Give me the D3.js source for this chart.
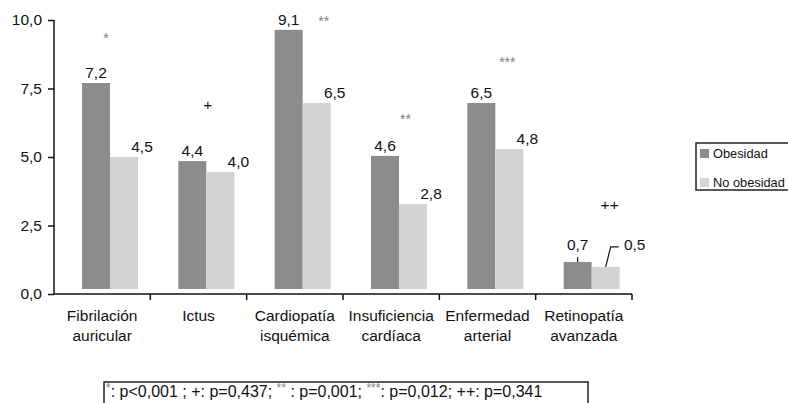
<!DOCTYPE html>
<html>
<head>
<meta charset="utf-8">
<script src="https://cdnjs.cloudflare.com/ajax/libs/d3/7.8.5/d3.min.js"></script>
<style>
  body { margin: 0; background: #fff; }
  svg { font-family: "Liberation Sans", Arial, Helvetica, sans-serif; }
</style>
</head>
<body>
<svg id="chart" width="788" height="403"></svg>
<script>
'use strict';

// categorias (dos lineas cada una)
var categories = [
  ["Fibrilación", "auricular"],
  ["Ictus", ""],
  ["Cardiopatía", "isquémica"],
  ["Insuficiencia", "cardíaca"],
  ["Enfermedad", "arterial"],
  ["Retinopatía", "avanzada"]
];
var series = ["Obesidad", "No obesidad"];

// valores rotulados
var obesidad = [7.2, 4.4, 9.1, 4.6, 6.5, 0.7];
var noObesidad = [4.5, 4.0, 6.5, 2.8, 4.8, 0.5];

// altura de las barras (estan dibujadas mas altas que su rotulo)
var obesidadBar = [7.70, 4.85, 9.64, 5.04, 6.97, 1.17];
var noObesidadBar = [5.00, 4.45, 6.97, 3.28, 5.29, 0.99];

// marcas de significacion y su altura (en unidades del eje)
var sigMarks = ["*", "+", "**", "**", "***", "++"];
var sigLevel = [9.53, 6.93, 10.18, 6.57, 8.65, 3.28];
var sigShift = [-4, 1.5, 21, 6.5, 12, 18];

var yTicks = [0, 2.5, 5, 7.5, 10];

var footnote = [
  {t: "*", sup: true},
  {t: ": p<0,001 ; +: p=0,437; "},
  {t: "**", sup: true},
  {t: " : p=0,001; "},
  {t: "***", sup: true},
  {t: ": p=0,012; ++: p=0,341"}
];

var darkColor = "#8c8c8c";
var lightColor = "#d3d3d3";
var comma = function (v) { return d3.format(".1f")(v).replace(".", ","); };

var svg = d3.select("#chart");

var x = d3.scaleBand()
    .domain(categories.map(function (d) { return d[0]; }))
    .range([54, 632])
    .paddingInner(0).paddingOuter(0);
var y = d3.scaleLinear().domain([0, 10]).range([294, 20]);

var barW = 28, barOff = 28;
var barBase = y(0) - 5;

// eje y
var yAxis = svg.append("g")
    .attr("transform", "translate(54,0)")
    .call(d3.axisLeft(y).tickValues(yTicks).tickSize(6).tickPadding(6).tickFormat(comma));
yAxis.select(".domain").attr("d", "M0," + y(10) + "V" + y(0)).attr("stroke", "#111").attr("stroke-width", 1.5);
yAxis.selectAll(".tick line").attr("stroke", "#111").attr("stroke-width", 1.5);
yAxis.selectAll(".tick text").attr("font-size", 15.5).attr("fill", "#111").attr("font-family", null);

// eje x
var xAxis = svg.append("g").attr("transform", "translate(0," + y(0) + ")");
xAxis.append("line").attr("x1", 54).attr("x2", 632).attr("stroke", "#111").attr("stroke-width", 1.5);
xAxis.selectAll("line.tk")
    .data(categories)
    .enter().append("line")
    .attr("class", "tk")
    .attr("x1", function (d) { return x(d[0]) + x.bandwidth(); })
    .attr("x2", function (d) { return x(d[0]) + x.bandwidth(); })
    .attr("y1", 0).attr("y2", 6)
    .attr("stroke", "#111").attr("stroke-width", 1.5);

var catLabels = svg.append("g").selectAll("text")
    .data(categories)
    .enter().append("text")
    .attr("text-anchor", "middle")
    .attr("font-size", 15.5)
    .attr("fill", "#111");
catLabels.append("tspan")
    .attr("x", function (d) { return x(d[0]) + x.bandwidth() / 2; })
    .attr("y", 321)
    .text(function (d) { return d[0]; });
catLabels.append("tspan")
    .attr("x", function (d) { return x(d[0]) + x.bandwidth() / 2; })
    .attr("y", 341)
    .text(function (d) { return d[1]; });

// barras
var groups = svg.append("g").selectAll("g")
    .data(categories.map(function (c, i) {
      return {cat: c[0], i: i, a: obesidad[i], b: noObesidad[i], ha: obesidadBar[i], hb: noObesidadBar[i]};
    }))
    .enter().append("g");

groups.append("rect")
    .attr("x", function (d) { return x(d.cat) + barOff; })
    .attr("y", function (d) { return y(d.ha); })
    .attr("width", barW)
    .attr("height", function (d) { return barBase - y(d.ha); })
    .attr("fill", darkColor);
groups.append("rect")
    .attr("x", function (d) { return x(d.cat) + barOff + barW; })
    .attr("y", function (d) { return y(d.hb); })
    .attr("width", barW)
    .attr("height", function (d) { return barBase - y(d.hb); })
    .attr("fill", lightColor);

// rotulos de valor
function isLeader(d) { return d.i === categories.length - 1; }

groups.append("text")
    .attr("x", function (d) { return x(d.cat) + barOff + barW / 2; })
    .attr("y", function (d) { return y(d.ha) - (isLeader(d) ? 12 : 5); })
    .attr("text-anchor", "middle")
    .attr("font-size", 15.5)
    .attr("fill", "#111")
    .text(function (d) { return comma(d.a); });
groups.append("text")
    .attr("x", function (d) { return x(d.cat) + barOff + barW * 1.5 + (isLeader(d) ? 29 : 18); })
    .attr("y", function (d) { return isLeader(d) ? y(d.ha) - 12 : y(d.hb) - 5; })
    .attr("text-anchor", "middle")
    .attr("font-size", 15.5)
    .attr("fill", "#111")
    .text(function (d) { return comma(d.b); });

// lineas guia de la ultima categoria
var last = groups.filter(isLeader);
last.append("line")
    .attr("x1", function (d) { return x(d.cat) + barOff + barW / 2; })
    .attr("x2", function (d) { return x(d.cat) + barOff + barW / 2; })
    .attr("y1", function (d) { return y(d.ha); })
    .attr("y2", function (d) { return y(d.ha) - 5; })
    .attr("stroke", "#111").attr("stroke-width", 1.2);
last.append("path")
    .attr("d", function (d) {
      var x0 = x(d.cat) + barOff + barW * 1.5, y0 = y(d.hb);
      return "M" + x0 + "," + y0 + "L" + (x0 + 5) + "," + (y(d.ha) - 15) + "H" + (x0 + 13);
    })
    .attr("fill", "none").attr("stroke", "#111").attr("stroke-width", 1.2);

// marcas de significacion
function isStar(m) { return m.indexOf("*") >= 0; }
groups.append("text")
    .attr("x", function (d) { return x(d.cat) + barOff + barW + sigShift[d.i]; })
    .attr("y", function (d) { return y(sigLevel[d.i]); })
    .attr("dy", function (d) { return isStar(sigMarks[d.i]) ? "0.75em" : "0.35em"; })
    .attr("text-anchor", "middle")
    .attr("font-size", function (d) { return isStar(sigMarks[d.i]) ? 14 : 15.5; })
    .attr("fill", function (d) { return isStar(sigMarks[d.i]) ? "#808080" : "#111"; })
    .text(function (d) { return sigMarks[d.i]; });

// leyenda
var legend = svg.append("g");
legend.append("rect")
    .attr("x", 696).attr("y", 143).attr("width", 110).attr("height", 47)
    .attr("fill", "#fff").attr("stroke", "#222").attr("stroke-width", 1.5);
legend.selectAll("g")
    .data(series)
    .enter().append("g")
    .each(function (s, i) {
      var g = d3.select(this);
      var yy = 149 + i * 29;
      g.append("rect").attr("x", 700).attr("y", yy).attr("width", 9).attr("height", 9)
        .attr("fill", i === 0 ? darkColor : lightColor);
      g.append("text").attr("x", 713).attr("y", yy + 9).attr("font-size", 12.8).attr("fill", "#111").text(s);
    });

// nota de significacion
var note = svg.append("g");
note.append("rect")
    .attr("x", 104).attr("y", 382).attr("width", 484).attr("height", 40)
    .attr("fill", "#fff").attr("stroke", "#222").attr("stroke-width", 1.5);
var nt = note.append("text")
    .attr("x", 106).attr("y", 397)
    .attr("font-size", 16)
    .attr("fill", "#111");
nt.selectAll("tspan")
    .data(footnote)
    .enter().append("tspan")
    .attr("dy", function (d, i) {
      if (d.sup) return -5;
      return (i > 0 && footnote[i - 1].sup) ? 5 : 0;
    })
    .attr("font-size", function (d) { return d.sup ? 12 : null; })
    .attr("fill", function (d) { return d.sup ? "#808080" : null; })
    .text(function (d) { return d.t; });
</script>
</body>
</html>
